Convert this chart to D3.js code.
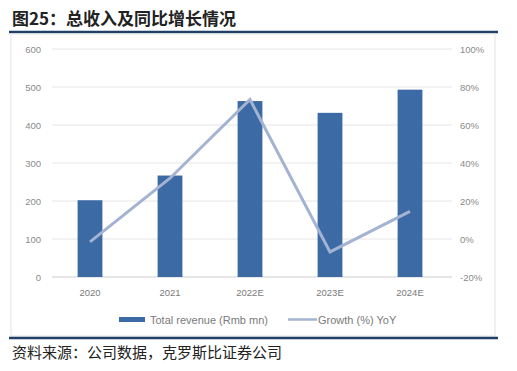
<!DOCTYPE html>
<html><head><meta charset="utf-8">
<script src="https://cdn.jsdelivr.net/npm/d3@7"></script>
<style>
body{margin:0;background:#fff;}
svg{display:block;font-family:"Liberation Sans","DejaVu Sans",sans-serif;}
</style></head>
<body><svg id="c" width="517" height="371"></svg>
<script>
const categories = ["2020","2021","2022E","2023E","2024E"];
const revenue = [202, 267, 463, 432, 493];
const growth = [-1.5, 32, 73.4, -6.8, 14.5];
const leftTicks = [0,100,200,300,400,500,600];
const rightTicks = [-20,0,20,40,60,80,100];
const title = "图25：总收入及同比增长情况";
const source = "资料来源：公司数据，克罗斯比证券公司";
const legendLabels = ["Total revenue (Rmb mn)", "Growth (%) YoY"];

const svg = d3.select("#c");
const cjk = '"Noto Sans CJK SC","Noto Sans CJK TC",sans-serif';

// title
svg.append("text").attr("x",12).attr("y",25).attr("font-family",cjk)
  .attr("font-weight","bold").attr("font-size",17).attr("fill","#222").text(title);
svg.append("line").attr("x1",9).attr("x2",498).attr("y1",32).attr("y2",32)
  .attr("stroke","#1F3F66").attr("stroke-width",2.5);
// frame
svg.append("rect").attr("x",11).attr("y",34).attr("width",484).attr("height",302)
  .attr("fill","none").attr("stroke","#e3e3e3").attr("stroke-width",1);
svg.append("line").attr("x1",9).attr("x2",498).attr("y1",338).attr("y2",338)
  .attr("stroke","#1F3F66").attr("stroke-width",2.5);
svg.append("text").attr("x",12).attr("y",358).attr("font-family",cjk)
  .attr("font-size",15).attr("fill","#222").text(source);

const x = d3.scaleBand().domain(categories).range([50,450]).paddingInner(0.69).paddingOuter(0.345);
const yL = d3.scaleLinear().domain([0,600]).range([277,49]);
const yR = d3.scaleLinear().domain([-20,100]).range([277,49]);

// gridlines
svg.append("g").selectAll("line").data(leftTicks).join("line")
  .attr("x1",52).attr("x2",452).attr("y1",d=>yL(d)).attr("y2",d=>yL(d))
  .attr("stroke","#e6e6e6").attr("stroke-width",1);

const axL = svg.append("g").attr("transform","translate(41,0)")
  .call(d3.axisLeft(yL).tickValues(leftTicks).tickSize(0).tickPadding(0));
axL.select(".domain").remove();
axL.selectAll("text").attr("fill","#8a8a8a").attr("font-size",9.5);

const axR = svg.append("g").attr("transform","translate(460,0)")
  .call(d3.axisRight(yR).tickValues(rightTicks).tickSize(0).tickPadding(0).tickFormat(d=>d+"%"));
axR.select(".domain").remove();
axR.selectAll("text").attr("fill","#8a8a8a").attr("font-size",9.5);

const axB = svg.append("g").attr("transform","translate(0,287)")
  .call(d3.axisBottom(x).tickSize(0).tickPadding(2));
axB.select(".domain").remove();
axB.selectAll("text").attr("fill","#7a7a7a").attr("font-size",9.5);

svg.append("line").attr("x1",52).attr("x2",452).attr("y1",yL(0)).attr("y2",yL(0))
  .attr("stroke","#d9d9d9");

// bars
svg.append("g").selectAll("rect").data(revenue).join("rect")
  .attr("x",(d,i)=>x(categories[i])).attr("width",x.bandwidth())
  .attr("y",d=>yL(d)).attr("height",d=>yL(0)-yL(d))
  .attr("fill","#3C6AA5");

// line
const line = d3.line().x((d,i)=>x(categories[i])+x.bandwidth()/2).y(d=>yR(d));
svg.append("path").datum(growth).attr("d",line).attr("fill","none")
  .attr("stroke","#A3B3D1").attr("stroke-width",3).attr("stroke-linejoin","miter");

// legend
const lg = svg.append("g");
lg.append("rect").attr("x",119).attr("y",317).attr("width",26).attr("height",5).attr("fill","#3C6AA5");
lg.append("text").attr("x",150).attr("y",323.5).attr("font-size",11).attr("fill","#7a7a7a").text(legendLabels[0]);
lg.append("line").attr("x1",288).attr("x2",317).attr("y1",319.5).attr("y2",319.5).attr("stroke","#A3B3D1").attr("stroke-width",2.5);
lg.append("text").attr("x",318).attr("y",323.5).attr("font-size",11).attr("fill","#7a7a7a").text(legendLabels[1]);
</script></body></html>
